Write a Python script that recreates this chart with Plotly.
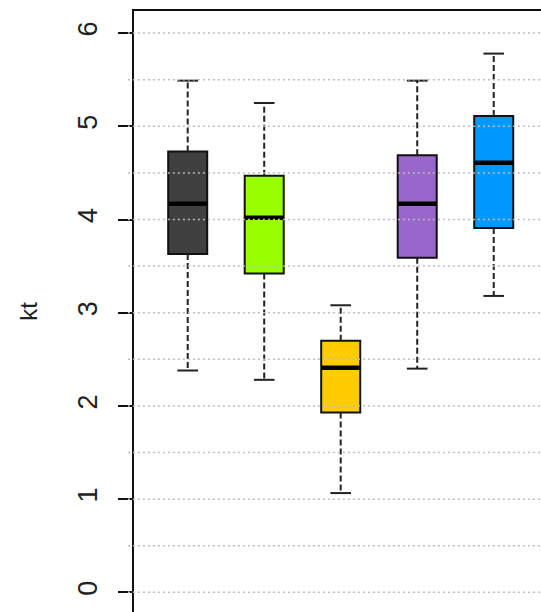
import plotly.graph_objects as go

# Data (kt)
groups = ["A", "B", "C", "D", "E"]
lower_whisker = [2.38, 2.28, 1.065, 2.40, 3.18]
q1_values = [3.63, 3.42, 1.93, 3.59, 3.91]
median_values = [4.17, 4.02, 2.41, 4.17, 4.61]
q3_values = [4.73, 4.47, 2.70, 4.69, 5.11]
upper_whisker = [5.49, 5.25, 3.08, 5.49, 5.78]
box_colors = ["#404040", "#99ff00", "#ffcc00", "#9966cc", "#0099ff"]
y_tick_values = [0, 1, 2, 3, 4, 5, 6]
grid_values = [0, 0.5, 1, 1.5, 2, 2.5, 3, 3.5, 4, 4.5, 5, 5.5, 6]

BOX_W = 0.51
STAPLE_W = 0.27
positions = list(range(1, len(groups) + 1))

fig = go.Figure()

for i, pos in enumerate(positions):
    fig.add_trace(go.Box(
        x=[pos], q1=[q1_values[i]], median=[median_values[i]], q3=[q3_values[i]],
        lowerfence=[q1_values[i]], upperfence=[q3_values[i]],
        width=BOX_W, fillcolor=box_colors[i],
        line=dict(color="#111111", width=2), whiskerwidth=0,
        showlegend=False, hoverinfo="skip", name=groups[i],
    ))

for i, pos in enumerate(positions):
    # dashed whiskers
    fig.add_trace(go.Scatter(
        x=[pos, pos, None, pos, pos],
        y=[q3_values[i], upper_whisker[i], None, q1_values[i], lower_whisker[i]],
        mode="lines", line=dict(color="#222222", width=2, dash="6px,3px"),
        showlegend=False, hoverinfo="skip",
    ))
    # staples
    fig.add_trace(go.Scatter(
        x=[pos - STAPLE_W / 2, pos + STAPLE_W / 2, None, pos - STAPLE_W / 2, pos + STAPLE_W / 2],
        y=[upper_whisker[i], upper_whisker[i], None, lower_whisker[i], lower_whisker[i]],
        mode="lines", line=dict(color="#222222", width=2),
        showlegend=False, hoverinfo="skip",
    ))
    # thick median
    fig.add_trace(go.Scatter(
        x=[pos - BOX_W / 2, pos + BOX_W / 2], y=[median_values[i], median_values[i]],
        mode="lines", line=dict(color="#000000", width=4.5),
        showlegend=False, hoverinfo="skip",
    ))

# dotted grid drawn above the boxes, as in the reference
for g in grid_values:
    fig.add_shape(type="line", xref="paper", yref="y", x0=-0.015, x1=1, y0=g, y1=g,
                  line=dict(color="#bdbdbd", width=1.5, dash="2px,3px"), layer="above")

fig.update_layout(
    width=541, height=612,
    margin=dict(l=134, r=0, t=11, b=0),
    plot_bgcolor="white", paper_bgcolor="white",
    font=dict(family="Liberation Sans, Arial, sans-serif", color="#111111"),
    showlegend=False,
)
fig.update_xaxes(
    range=[0.298, 5.618], side="top", showline=True, linecolor="#111111", linewidth=2,
    showgrid=False, zeroline=False, ticks="", showticklabels=False,
)
fig.update_yaxes(
    range=[-0.211, 6.237], showline=True, linecolor="#111111", linewidth=2,
    showgrid=False, zeroline=False,
    tickmode="array", tickvals=y_tick_values, ticktext=[str(v) for v in y_tick_values],
    ticks="outside", ticklen=14, tickwidth=2, tickcolor="#111111",
    tickangle=-90, tickfont=dict(size=27, color="#222222"), ticklabelstandoff=10,
    title=dict(text="kt", font=dict(size=24, color="#222222"), standoff=29),
)

fig.write_html("out.html", config={"displayModeBar": False},
               post_script="document.body.style.margin='0';")
